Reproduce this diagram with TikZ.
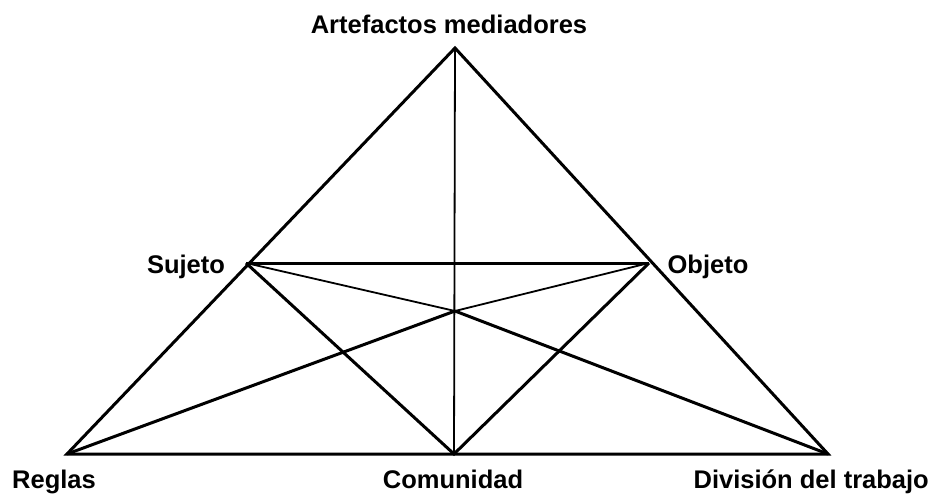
\documentclass[tikz,border=0pt]{standalone}
\usepackage{fontspec}
\setmainfont{Liberation Sans}
\begin{document}
\begin{tikzpicture}[x=1pt,y=-1pt,
  thickline/.style={line width=3pt, line join=miter},
  thinline/.style={line width=1.8pt},
  lbl/.style={font=\fontsize{25.5}{28}\selectfont\bfseries, inner sep=0pt, anchor=base}]
\useasboundingbox (0,0) rectangle (931,493);
\coordinate (A) at (455,48);
\coordinate (L) at (67,454);
\coordinate (R) at (828,454);
\coordinate (C) at (454,454);
\coordinate (S) at (246,263);
\coordinate (O) at (649,263);
\coordinate (X) at (455,311);
% thin lines
\draw[thinline] (A) -- (C);
\draw[thinline] (S) -- (X);
\draw[thinline] (O) -- (X);
% thick lines
\draw[thickline] (X) -- (L);
\draw[thickline] (X) -- (R);
\draw[thickline] (S) -- (O);
\draw[thickline] (S) -- (C) -- (O);
\draw[thickline] (A) -- (L) -- (R) -- cycle;
% labels
\node[lbl] (tA) at (449,33) {Artefactos mediadores};
\node[lbl] (tS) at (186,273) {Sujeto};
\node[lbl] (tO) at (708,273) {Objeto};
\node[lbl] (tL) at (54,488) {Reglas};
\node[lbl] (tC) at (453,488) {Comunidad};
\node[lbl, anchor=base east] (tR) at (929,488) {División del trabajo};
\end{tikzpicture}
\end{document}
